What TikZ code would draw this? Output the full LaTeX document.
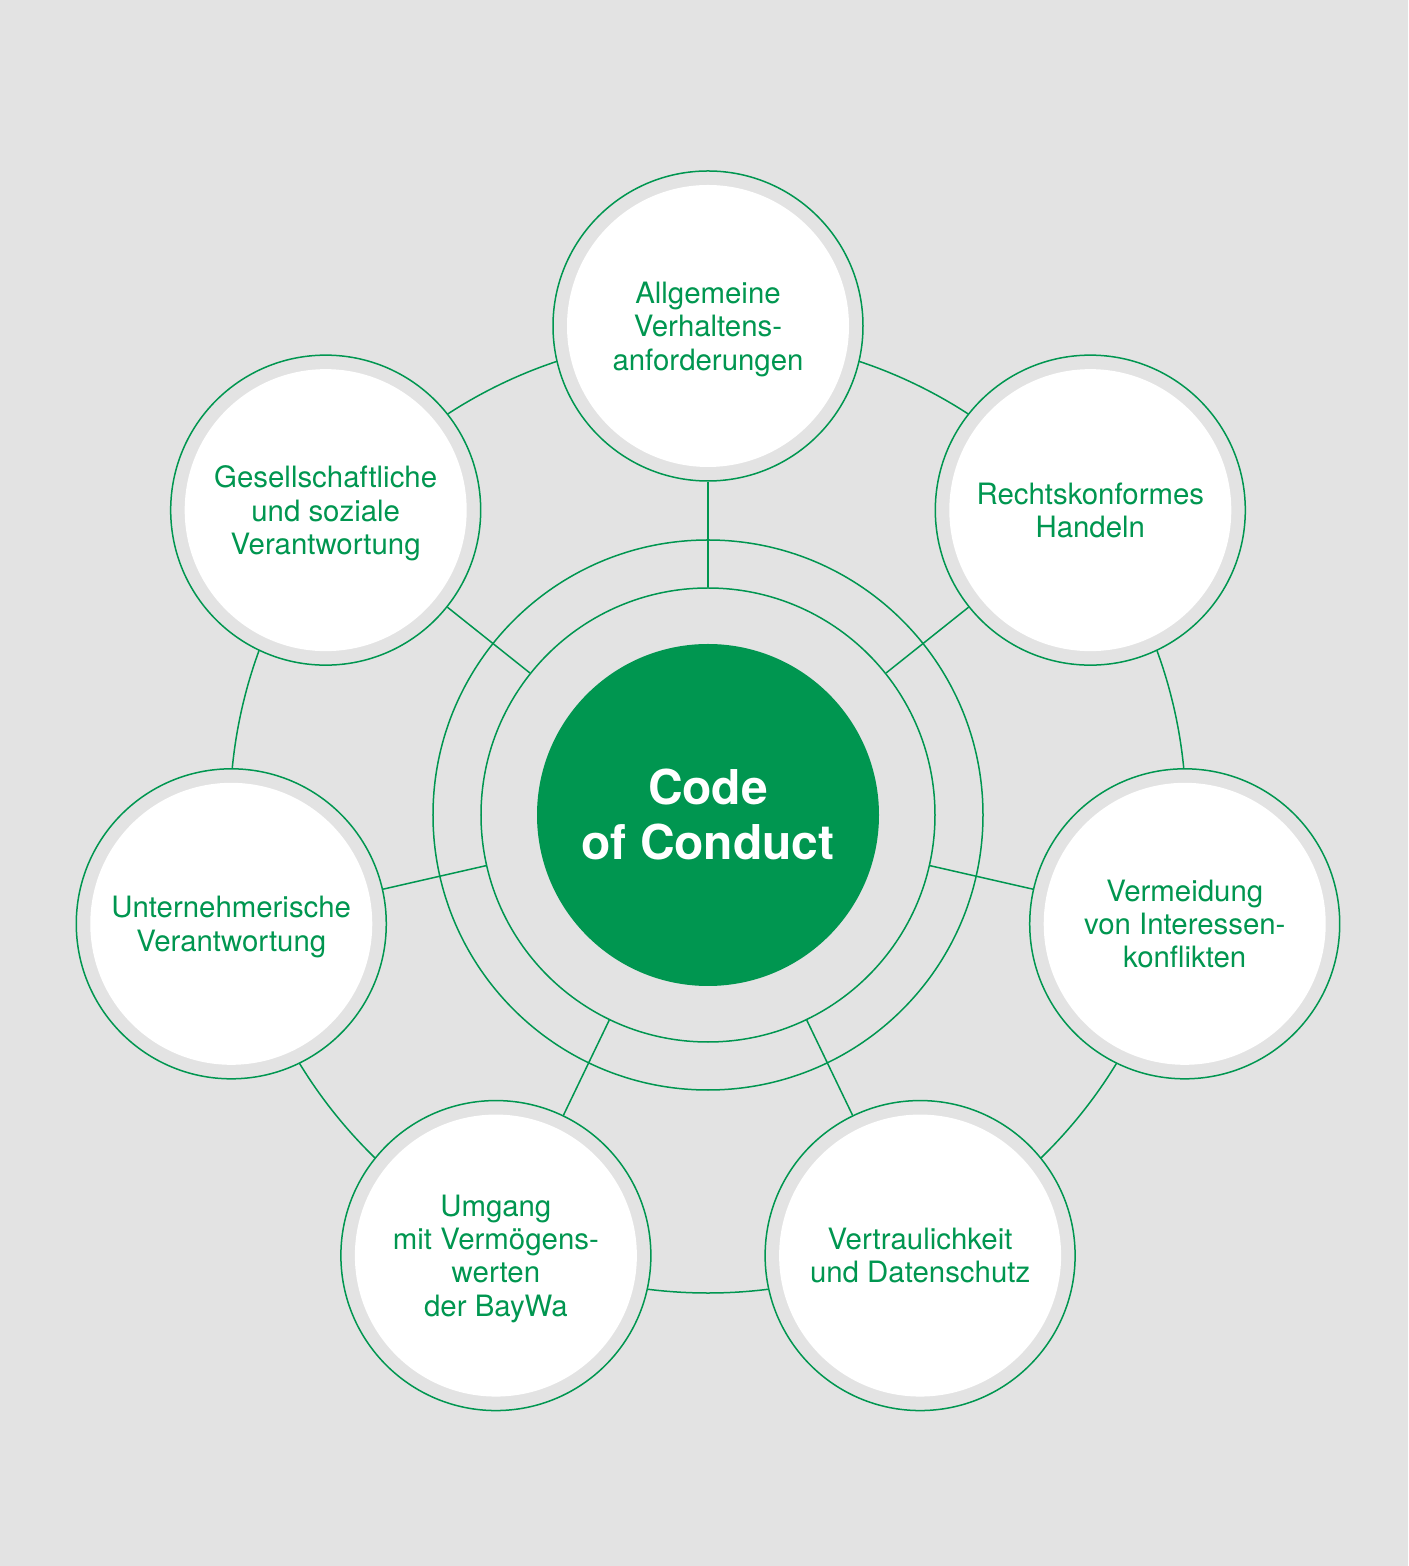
\documentclass[tikz,border=0pt]{standalone}
\usepackage{fontspec}
\setmainfont{TeX Gyre Heros}
\definecolor{bwgreen}{RGB}{0,150,80}
\definecolor{bggray}{RGB}{227,227,227}

\begin{document}
\begin{tikzpicture}[x=0.5pt,y=0.5pt]
\tikzset{every node/.style={font=\fontsize{14.7}{16.7}\selectfont, text=bwgreen, align=center}}
\tikzset{topic/.style={circle, draw=bwgreen, line width=0.75pt, fill=bggray, minimum size=155pt, inner sep=0pt,
  text depth=0pt,
  path picture={\fill[white] (path picture bounding box.center) circle (70.5pt);}}}
\tikzset{ring/.style={circle, draw=bwgreen, line width=0.75pt, inner sep=0pt}}
\tikzset{link/.style={bwgreen, line width=0.75pt}}

% Background
\fill[bggray] (-708,-751) rectangle (700,815);
\useasboundingbox (-708,-751) rectangle (700,815);

% Rings round the centre
\node[ring, minimum size=275pt] (outer) at (0,0) {};
\node[ring, minimum size=227pt] (inner) at (0,0) {};
\node[circle, fill=bwgreen, minimum size=171pt, text=white,
  font=\fontsize{24}{27.5}\selectfont\bfseries] (coc) at (0,0) {Code\\of Conduct};

% Orbit through the topics
\draw[link] (0,0) circle (478);

% Nodes for topics
\node[topic] (allg) at (90:489) {Allgemeine\\Verhaltens-\\anforderungen};
\node[topic] (recht) at (38.57:489) {Rechtskonformes\\Handeln};
\node[topic] (interessen) at (-12.86:489) {Vermeidung\\von Interessen-\\konflikten};
\node[topic] (daten) at (-64.29:489) {Vertraulichkeit\\und Datenschutz};
\node[topic] (vermoegen) at (-115.71:489) {Umgang\\mit Vermögens-\\werten\\der BayWa};
\node[topic] (unternehmen) at (-167.14:489) {Unternehmerische\\Verantwortung};
\node[topic] (sozial) at (141.43:489) {Gesellschaftliche\\und soziale\\Verantwortung};

% Spokes to the inner ring
\draw[link] (allg) -- (inner);
\draw[link] (recht) -- (inner);
\draw[link] (interessen) -- (inner);
\draw[link] (daten) -- (inner);
\draw[link] (vermoegen) -- (inner);
\draw[link] (unternehmen) -- (inner);
\draw[link] (sozial) -- (inner);
\end{tikzpicture}
\end{document}
